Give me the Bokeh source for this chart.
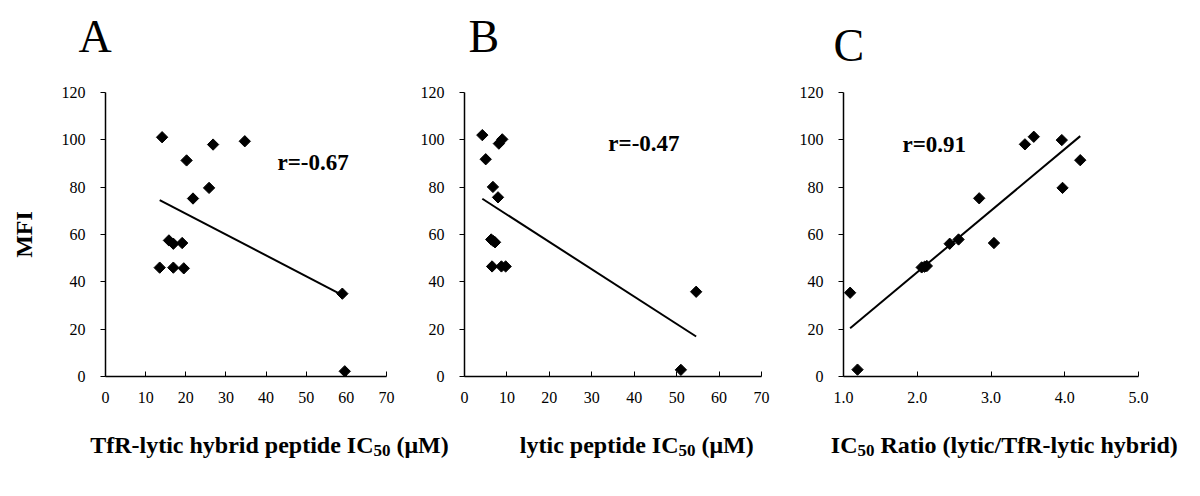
import numpy as np
from bokeh.plotting import figure
from bokeh.layouts import row, column
from bokeh.models import Label, FixedTicker, PrintfTickFormatter, Range1d
from bokeh.core.properties import value
from bokeh.embed import file_html
from bokeh.resources import INLINE

# ---------------- data ----------------
# Panel A: TfR-lytic hybrid peptide IC50 (uM) vs MFI
ic50_hybrid = [14.1, 20.2, 26.8, 34.7, 25.8, 21.8, 15.8, 16.9, 19.1, 13.5, 16.9, 19.5, 59.0, 59.6]
mfi_a = [101.1, 91.3, 98.0, 99.4, 79.7, 75.2, 57.5, 56.1, 56.4, 46.0, 46.0, 45.7, 35.0, 2.2]

# Panel B: lytic peptide IC50 (uM) vs MFI
ic50_lytic = [4.2, 5.0, 8.1, 8.9, 6.7, 7.9, 6.3, 6.8, 7.2, 6.5, 8.7, 9.7, 54.6, 51.0]
mfi_b = [102.0, 91.8, 98.4, 100.2, 80.1, 75.7, 57.9, 57.2, 56.7, 46.5, 46.5, 46.5, 35.8, 2.8]

# Panel C: IC50 ratio vs MFI
ic50_ratio = [1.09, 1.19, 2.06, 2.10, 2.13, 2.44, 2.56, 3.04, 2.84, 3.46, 3.58, 3.96, 3.97, 4.21]
mfi_c = [35.4, 2.9, 46.1, 46.4, 46.7, 56.1, 57.9, 56.4, 75.3, 98.1, 101.3, 99.9, 79.7, 91.4]

y_ticks = [0, 20, 40, 60, 80, 100, 120]
x_ticks_ab = [0, 10, 20, 30, 40, 50, 60, 70]
x_ticks_c = [1.0, 2.0, 3.0, 4.0, 5.0]

panel_letters = ["A", "B", "C"]
r_labels = ["r=-0.67", "r=-0.47", "r=0.91"]
y_title = "MFI"
# x-axis titles split as (main, subscript, tail)
x_titles = [
    ("TfR-lytic hybrid peptide IC", "50", "\u00a0(\u03bcM)"),
    ("lytic peptide IC", "50", "\u00a0(\u03bcM)"),
    ("IC", "50", "\u00a0Ratio (lytic/TfR-lytic hybrid)"),
]

SERIF = "Liberation Serif"
TOP_STRIP_H = 70
PANEL_H = 362
BOTTOM_STRIP_H = 64
TOP, BOTTOM = 22, 56


def make_panel(xs, ys, xr, xticks, width, left, right, fmt=None):
    p = figure(width=width, height=PANEL_H, x_range=Range1d(*xr), y_range=Range1d(0, 120),
               title=None, toolbar_location=None, output_backend="svg",
               min_border_left=left, min_border_right=right,
               min_border_top=TOP, min_border_bottom=BOTTOM)
    p.outline_line_color = None
    p.grid.visible = False

    p.xaxis.ticker = FixedTicker(ticks=xticks)
    p.yaxis.ticker = FixedTicker(ticks=y_ticks)
    if fmt:
        p.xaxis.formatter = PrintfTickFormatter(format=fmt)
    p.axis.axis_line_color = "black"
    p.axis.axis_line_width = 1.5
    p.axis.major_tick_line_color = "black"
    p.axis.major_tick_line_width = 1
    p.axis.minor_tick_line_color = None
    p.xaxis.major_tick_in = 5
    p.xaxis.major_tick_out = 0
    p.yaxis.major_tick_in = 0
    p.yaxis.major_tick_out = 5
    p.axis.major_label_text_font = SERIF
    p.axis.major_label_text_font_size = "16px"
    p.axis.major_label_text_color = "black"
    p.xaxis.major_label_standoff = 15
    p.yaxis.major_label_standoff = 15

    coef = np.polyfit(xs, ys, 1)
    lx = [min(xs), max(xs)]
    p.line(lx, list(np.polyval(coef, lx)), line_color="black", line_width=2)
    p.scatter(xs, ys, marker="square", angle=np.pi / 4, size=8,
              fill_color="black", line_color="black")
    return p


pA = make_panel(ic50_hybrid, mfi_a, (0, 70), x_ticks_ab, 410, 105, 24)
pB = make_panel(ic50_lytic, mfi_b, (0, 70), x_ticks_ab, 380, 54, 29)
pC = make_panel(ic50_ratio, mfi_c, (1.0, 5.0), x_ticks_c, 410, 53, 62, fmt="%.1f")

# y title (MFI) on panel A
pA.yaxis.axis_label = y_title
pA.yaxis.axis_label_text_font = SERIF
pA.yaxis.axis_label_text_font_size = "24px"
pA.yaxis.axis_label_text_font_style = "bold"
pA.yaxis.axis_label_text_color = "black"
pA.yaxis.axis_label_standoff = 22

# correlation labels
for p, txt, (lx, ly) in zip([pA, pB, pC], r_labels,
                             [(42.85, 90.4), (33.9, 98.5), (1.80, 98.0)]):
    p.add_layout(Label(x=lx, y=ly, text=txt, text_font=SERIF, text_font_size="23px",
                       text_font_style="bold", text_color="black",
                       text_align="left", text_baseline="alphabetic"))


def text_strip(height):
    s = figure(width=1200, height=height, x_range=Range1d(0, 1200), y_range=Range1d(0, height),
               title=None, toolbar_location=None, output_backend="svg", min_border=0,
               x_axis_location=None, y_axis_location=None)
    s.outline_line_color = None
    s.grid.visible = False
    return s


# top strip with the panel letters
top = text_strip(TOP_STRIP_H)
top.text(x=[78, 468, 833], y=[34, 34, 25], text=panel_letters,
         text_font=value(SERIF), text_font_size="46px", text_font_style="normal",
         text_align="left", text_baseline="alphabetic", text_color="black")

# bottom strip with x-axis titles
strip = text_strip(BOTTOM_STRIP_H)
anchors = [373, 678, 857]
main_y, sub_y, sub_w = 52, 46, 17
strip.text(x=anchors, y=[main_y] * 3, text=[t[0] for t in x_titles],
           text_font=value(SERIF), text_font_size="24px", text_font_style="bold",
           text_align="right", text_baseline="alphabetic", text_color="black")
strip.text(x=anchors, y=[sub_y] * 3, text=[t[1] for t in x_titles],
           text_font=value(SERIF), text_font_size="17px", text_font_style="bold",
           text_align="left", text_baseline="alphabetic", text_color="black")
strip.text(x=[a + sub_w for a in anchors], y=[main_y] * 3, text=[t[2] for t in x_titles],
           text_font=value(SERIF), text_font_size="24px", text_font_style="bold",
           text_align="left", text_baseline="alphabetic", text_color="black")

layout = column(top, row(pA, pB, pC), strip)
open("out.html", "w").write(file_html(layout, INLINE))
